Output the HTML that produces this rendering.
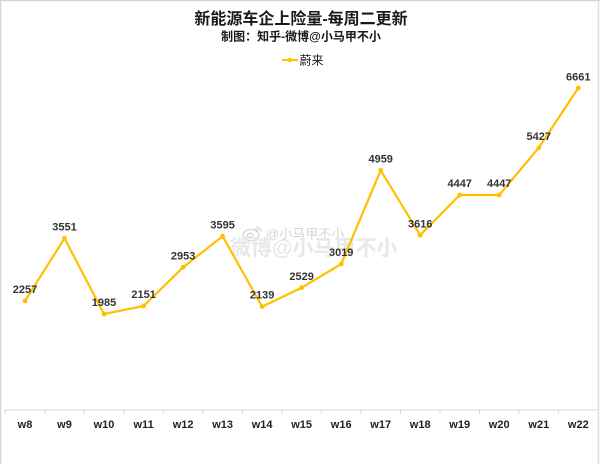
<!DOCTYPE html>
<html><head><meta charset="utf-8"><style>
html,body{margin:0;padding:0;background:#fff;}
svg{display:block;}
text{font-family:"Liberation Sans","Noto Sans CJK SC",sans-serif;}
</style></head><body>
<svg width="600" height="464" viewBox="0 0 600 464" xmlns="http://www.w3.org/2000/svg">
<rect x="0" y="0" width="600" height="464" fill="#fff"/>
<line x1="0" y1="0.5" x2="600" y2="0.5" stroke="#d4d4d4" stroke-width="1.5"/>
<line x1="0.5" y1="0" x2="0.5" y2="464" stroke="#d4d4d4" stroke-width="1.5"/>
<line x1="598.5" y1="0" x2="598.5" y2="464" stroke="#e0e0e0" stroke-width="1.5"/>

<text x="301" y="24" text-anchor="middle" font-size="16" font-weight="bold" fill="#1a1a1a">新能源车企上险量-每周二更新</text>
<text x="301" y="40.5" text-anchor="middle" font-size="12" font-weight="bold" fill="#1a1a1a">制图：知乎-微博@小马甲不小</text>
<line x1="282" y1="60" x2="298" y2="60" stroke="#FFC000" stroke-width="2"/>
<circle cx="290" cy="60" r="2.2" fill="#FFC000"/>
<text x="299.5" y="64.5" font-size="12" fill="#1a1a1a">蔚来</text>

<!-- watermark -->
<g fill="none" stroke="#d6d6d6" stroke-width="1.3">
<ellipse cx="251" cy="235" rx="8" ry="5.5"/>
<ellipse cx="250" cy="235.5" rx="3" ry="2.2"/>
<path d="M256 227 a5 5 0 0 1 5 5"/>
<path d="M255 229.5 a2.5 2.5 0 0 1 3 3"/>
</g>
<text x="266" y="238.5" font-size="13" fill="#d4d4d4">@小马甲不小</text>
<text x="230" y="255" font-size="21" font-weight="bold" fill="#e8e8e8">微博@小马甲不小</text>

<!-- axis -->
<line x1="5" y1="410" x2="598" y2="410" stroke="#d9d9d9" stroke-width="1"/>
<g stroke="#d9d9d9" stroke-width="1">
<line x1="5.2" y1="410" x2="5.2" y2="414"/>
<line x1="44.8" y1="410" x2="44.8" y2="414"/>
<line x1="84.3" y1="410" x2="84.3" y2="414"/>
<line x1="123.8" y1="410" x2="123.8" y2="414"/>
<line x1="163.3" y1="410" x2="163.3" y2="414"/>
<line x1="202.8" y1="410" x2="202.8" y2="414"/>
<line x1="242.4" y1="410" x2="242.4" y2="414"/>
<line x1="281.9" y1="410" x2="281.9" y2="414"/>
<line x1="321.4" y1="410" x2="321.4" y2="414"/>
<line x1="360.9" y1="410" x2="360.9" y2="414"/>
<line x1="400.4" y1="410" x2="400.4" y2="414"/>
<line x1="440" y1="410" x2="440" y2="414"/>
<line x1="479.5" y1="410" x2="479.5" y2="414"/>
<line x1="519" y1="410" x2="519" y2="414"/>
<line x1="558.5" y1="410" x2="558.5" y2="414"/>
<line x1="598" y1="410" x2="598" y2="414"/>
</g>
<g font-size="11" font-weight="bold" fill="#222" text-anchor="middle">
<text x="25" y="428">w8</text>
<text x="64.5" y="428">w9</text>
<text x="104" y="428">w10</text>
<text x="143.6" y="428">w11</text>
<text x="183.1" y="428">w12</text>
<text x="222.6" y="428">w13</text>
<text x="262.1" y="428">w14</text>
<text x="301.6" y="428">w15</text>
<text x="341.2" y="428">w16</text>
<text x="380.7" y="428">w17</text>
<text x="420.2" y="428">w18</text>
<text x="459.7" y="428">w19</text>
<text x="499.2" y="428">w20</text>
<text x="538.8" y="428">w21</text>
<text x="578.3" y="428">w22</text>
</g>

<polyline fill="none" stroke="#FFC000" stroke-width="2.2" stroke-linejoin="round" points="25,300.9 64.5,238.3 104,314 143.6,306 183.1,267.3 222.6,236.2 262.1,306.6 301.6,287.7 341.2,264.1 380.7,170.3 420.2,235.2 459.7,195 499.2,195 538.8,147.7 578.3,88"/>
<g fill="#FFC000">
<circle cx="25" cy="300.9" r="2.4"/>
<circle cx="64.5" cy="238.3" r="2.4"/>
<circle cx="104" cy="314" r="2.4"/>
<circle cx="143.6" cy="306" r="2.4"/>
<circle cx="183.1" cy="267.3" r="2.4"/>
<circle cx="222.6" cy="236.2" r="2.4"/>
<circle cx="262.1" cy="306.6" r="2.4"/>
<circle cx="301.6" cy="287.7" r="2.4"/>
<circle cx="341.2" cy="264.1" r="2.4"/>
<circle cx="380.7" cy="170.3" r="2.4"/>
<circle cx="420.2" cy="235.2" r="2.4"/>
<circle cx="459.7" cy="195" r="2.4"/>
<circle cx="499.2" cy="195" r="2.4"/>
<circle cx="538.8" cy="147.7" r="2.4"/>
<circle cx="578.3" cy="88" r="2.4"/>
</g>
<g font-size="11" font-weight="bold" fill="#333" text-anchor="middle">
<text x="25" y="293">2257</text>
<text x="64.5" y="230.5">3551</text>
<text x="104" y="306">1985</text>
<text x="143.6" y="298">2151</text>
<text x="183.1" y="259.5">2953</text>
<text x="222.6" y="228.5">3595</text>
<text x="262.1" y="298.5">2139</text>
<text x="301.6" y="280">2529</text>
<text x="341.2" y="256">3019</text>
<text x="380.7" y="162.5">4959</text>
<text x="420.2" y="227.5">3616</text>
<text x="459.7" y="187">4447</text>
<text x="499.2" y="187">4447</text>
<text x="538.8" y="140">5427</text>
<text x="578.3" y="80.5">6661</text>
</g>
</svg>
</body></html>
